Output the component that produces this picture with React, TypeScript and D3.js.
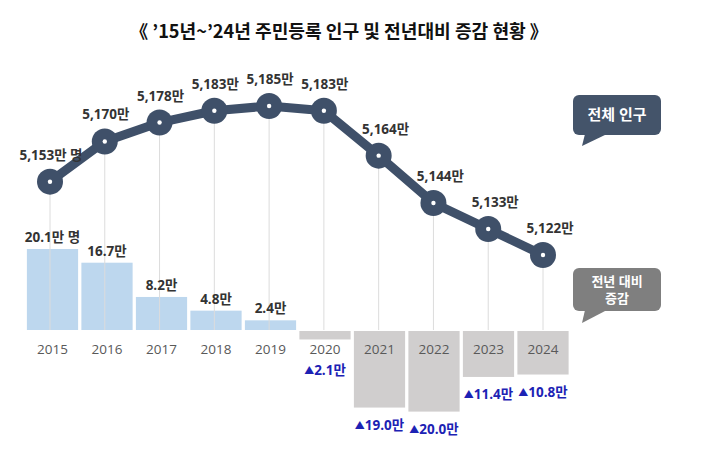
import React from "react";
import * as d3 from "d3";

const years = ["2015", "2016", "2017", "2018", "2019", "2020", "2021", "2022", "2023", "2024"];
const population = [5153, 5170, 5178, 5183, 5185, 5183, 5164, 5144, 5133, 5122];
const popLabels = ["5,153만 명", "5,170만", "5,178만", "5,183만", "5,185만", "5,183만", "5,164만", "5,144만", "5,133만", "5,122만"];
const change = [20.1, 16.7, 8.2, 4.8, 2.4, -2.1, -19.0, -20.0, -11.4, -10.8];
const changeLabels = ["20.1만 명", "16.7만", "8.2만", "4.8만", "2.4만", "2.1만", "19.0만", "20.0만", "11.4만", "10.8만"];

const FONT = "'Open Sans', 'Noto Sans CJK KR', sans-serif";

export default function App() {
  const W = 720, H = 459;
  const x = d3.scaleBand<string>().domain(years).range([25.25, 570.25]).paddingInner(0.06).paddingOuter(0.03);
  const xp = d3.scalePoint<string>().domain(years).range([50, 543]);
  const base = 330;
  const yBar = d3.scaleLinear().domain([0, 20.1]).range([base, 249]);
  const yLine = d3.scaleLinear().domain([5122, 5185]).range([255, 106]);
  const negTop = 331;
  const line = d3.line<number>().x((_, i) => xp(years[i])!).y((d) => yLine(d));
  const lineColor = "#3f5069";

  return (
    <svg width={W} height={H} style={{ position: "absolute", left: 0, top: 0, fontFamily: FONT }}>
      <rect width={W} height={H} fill="#fff" />
      <text x={339} y={38} textAnchor="middle" fontSize={18} fontWeight="bold" fill="#111"
        style={{ fontFamily: "'Noto Sans CJK KR', sans-serif" }} textLength={418} lengthAdjust="spacingAndGlyphs">
        《 ’15년~’24년 주민등록 인구 및 전년대비 증감 현황 》
      </text>
      {/* bars */}
      {change.map((v, i) => {
        const bx = x(years[i])!;
        const bw = x.bandwidth();
        if (v >= 0) {
          return <rect key={i} x={bx} y={yBar(v)} width={bw} height={base - yBar(v)} fill="#bdd7ee" />;
        }
        const h = yBar(0) - yBar(-v);
        return <rect key={i} x={bx} y={negTop} width={bw} height={h} fill="#d0cece" />;
      })}
      {/* vertical guide lines */}
      {population.map((v, i) => (
        <line key={i} x1={xp(years[i])} x2={xp(years[i])} y1={yLine(v)} y2={base} stroke="#dcdcdc" strokeWidth={1} />
      ))}
      {/* year labels */}
      {years.map((yr) => (
        <text key={yr} x={x(yr)! + x.bandwidth() / 2} y={354} textAnchor="middle" fontSize={13.5} fill="#595959">
          {yr}
        </text>
      ))}
      {/* change labels */}
      {change.map((v, i) => {
        const cx = x(years[i])! + x.bandwidth() / 2;
        if (v >= 0) {
          return (
            <text key={i} x={cx} y={yBar(v) - 7} textAnchor="middle" fontSize={13.5} fontWeight="bold" fill="#333">
              {changeLabels[i]}
            </text>
          );
        }
        const bottom = negTop + yBar(0) - yBar(-v);
        const ly = Math.max(bottom + 22, 375);
        return (
          <text key={i} x={cx} y={ly} textAnchor="middle" fontSize={13.5} fontWeight="bold" fill="#1c22b4">
            <tspan fontSize={10} dy={-1}>▲</tspan>
            <tspan dy={1}>{changeLabels[i]}</tspan>
          </text>
        );
      })}
      {/* line */}
      <path d={line(population)!} fill="none" stroke={lineColor} strokeWidth={9} strokeLinejoin="round" />
      {population.map((v, i) => (
        <g key={i}>
          <circle cx={xp(years[i])} cy={yLine(v)} r={13} fill={lineColor} />
          <circle cx={xp(years[i])} cy={yLine(v)} r={2.2} fill="#fff" />
        </g>
      ))}
      {population.map((v, i) => (
        <text key={i} x={xp(years[i])! + (i >= 6 ? 7 : 1)} y={yLine(v) - 22} textAnchor="middle" fontSize={13.5} fontWeight="bold" fill="#333">
          {popLabels[i]}
        </text>
      ))}
      {/* legend bubbles */}
      <g>
        <rect x={573} y={95} width={88} height={40} rx={6} fill="#44546a" />
        <path d="M585,134 L607,134 L582,146 Z" fill="#44546a" />
        <text x={617} y={120} textAnchor="middle" fontSize={15} fontWeight="bold" fill="#fff">전체 인구</text>
      </g>
      <g>
        <rect x={573} y={268} width={88} height={43} rx={6} fill="#7f7f7f" />
        <path d="M585,310 L607,310 L582,323 Z" fill="#7f7f7f" />
        <text x={617} y={285.5} textAnchor="middle" fontSize={13} fill="#fff" fontWeight="bold">전년 대비</text>
        <text x={617} y={303} textAnchor="middle" fontSize={13} fill="#fff" fontWeight="bold">증감</text>
      </g>
    </svg>
  );
}
